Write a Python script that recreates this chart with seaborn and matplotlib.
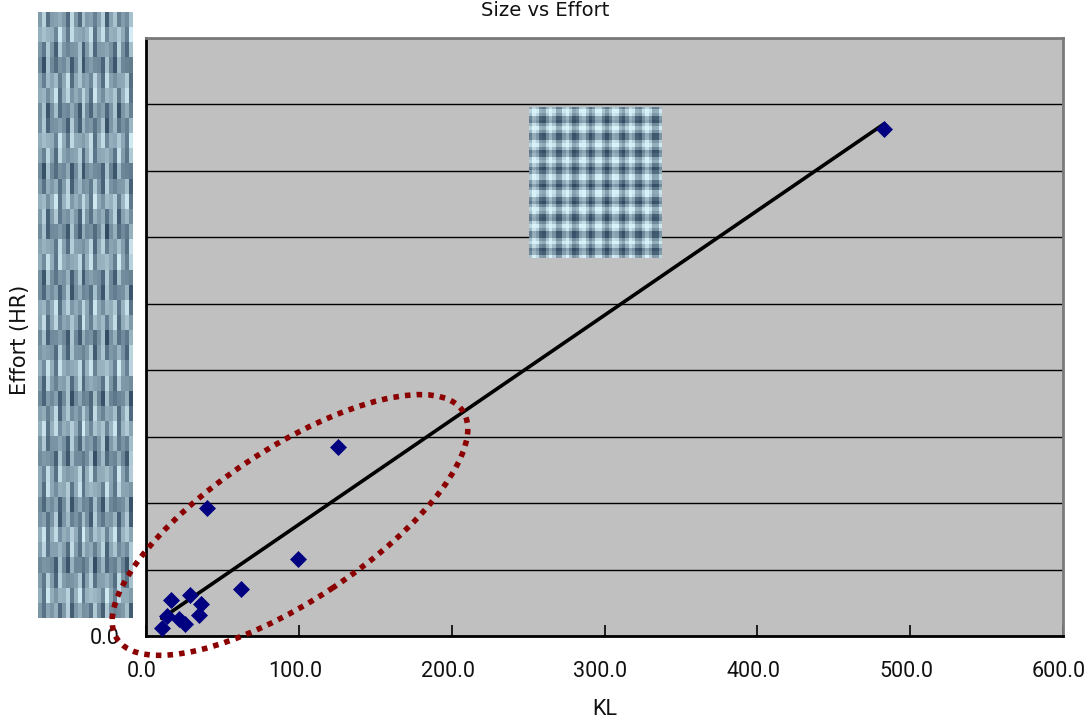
import numpy as np
import pandas as pd
import matplotlib
matplotlib.use("Agg")
import matplotlib.pyplot as plt
import matplotlib.transforms as mtransforms
import seaborn as sns
from matplotlib.patches import Ellipse

# ---- data ----
kl = [10.3, 13.5, 16.4, 21.6, 25.5, 28.8, 34.7, 35.8, 40.1, 62.2, 99.7, 125.8, 482.9]
effort = [116, 301, 542, 251, 176, 617, 316, 477, 1922, 707, 1154, 2840, 7626]
x_ticks = [0, 100, 200, 300, 400, 500, 600]
y_ticks = [0, 1000, 2000, 3000, 4000, 5000, 6000, 7000, 8000, 9000]

df = pd.DataFrame({"KL": kl, "Effort": effort})

sns.set_theme(style="white")
plt.rcParams['font.family'] = ['Roboto', 'DejaVu Sans']

fig = plt.figure(figsize=(10.87, 7.23), dpi=100)
ax = fig.add_axes([146/1087, 87/723, 917/1087, 598/723])
ax.set_facecolor("#C0C0C0")

# regression line
sns.regplot(data=df, x="KL", y="Effort", ax=ax, ci=None, truncate=True,
            scatter=False, line_kws=dict(color="black", lw=2.6, zorder=3))
# points
sns.scatterplot(data=df, x="KL", y="Effort", ax=ax, marker="D", s=75,
                color="#000080", edgecolor="#000080", linewidth=0, zorder=4)

ax.set_xlim(0, 600)
ax.set_ylim(0, 9000)
ax.set_xticks(x_ticks)
ax.set_xticklabels([f"{v:.1f}" for v in x_ticks], fontsize=15.5, color="#111111")
ax.set_yticks(y_ticks)
ax.set_yticklabels([f"{v:.1f}" if v == 0 else "" for v in y_ticks], fontsize=15.5, color="#111111")
ax.tick_params(axis="x", direction="in", length=8, width=1.2, color="black", pad=18, bottom=True)
ax.tick_params(axis="y", direction="in", length=0, pad=19, left=True)
shift = mtransforms.ScaledTranslation(-4 / 100, 0, fig.dpi_scale_trans)
for lab in ax.get_xticklabels():
    lab.set_transform(lab.get_transform() + shift)
ax.grid(axis="y", color="black", lw=1.0)
ax.grid(axis="x", visible=False)
ax.set_axisbelow(True)
for s in ["left", "bottom"]:
    ax.spines[s].set_color("black")
    ax.spines[s].set_linewidth(2)
for s in ["top", "right"]:
    ax.spines[s].set_color("#7A7A7A")
    ax.spines[s].set_linewidth(2)

ax.set_xlabel("KL", fontsize=15.5, labelpad=12, color="#111111")
ax.set_ylabel("")
fig.text(20/1087, 1 - 340/723, "Effort (HR)", rotation=90, ha="center", va="center",
         fontsize=15, family="DejaVu Sans", color="#111111")
fig.text(545/1087, 1 - 10/723, "Size vs Effort", ha="center", va="center",
         fontsize=14, family="DejaVu Sans", color="#111111")

# dotted red ellipse (annotation) in figure inches
ell = Ellipse((2.90, (723 - 525) / 100), width=4.14, height=1.52, angle=33.4,
              transform=fig.dpi_scale_trans, fill=False, edgecolor="#8B0000",
              lw=4, linestyle=(0, (1, 1.1)), clip_on=False, zorder=10)
fig.add_artist(ell)

# redaction-like texture patches
def texture(h, w, kind):
    yy, xx = np.mgrid[0:h, 0:w]
    if kind == "stripes":
        v = 0.55 + 0.35 * np.sin(xx * 2.1) * np.cos(yy * 0.9 + xx * 0.37) + 0.1 * np.sin(yy * 1.7)
    else:
        v = 0.6 + 0.25 * np.sin(xx * 1.3) + 0.25 * np.sin(yy * 1.3)
    v = np.clip(v, 0, 1)
    r = 0.1 + 0.75 * v
    g = 0.2 + 0.75 * v
    b = 0.3 + 0.68 * v
    return np.dstack([r, g, b]).clip(0, 1)

pax1 = fig.add_axes([38/1087, 1 - 618/723, 95/1087, 606/723])
pax1.imshow(texture(40, 24, "stripes"), aspect="auto", interpolation="nearest")
pax1.axis("off")
pax2 = fig.add_axes([529/1087, 1 - 258/723, 133/1087, 151/723])
pax2.imshow(texture(45, 40, "grid"), aspect="auto", interpolation="nearest")
pax2.axis("off")

fig.savefig("out.png", dpi=100)
